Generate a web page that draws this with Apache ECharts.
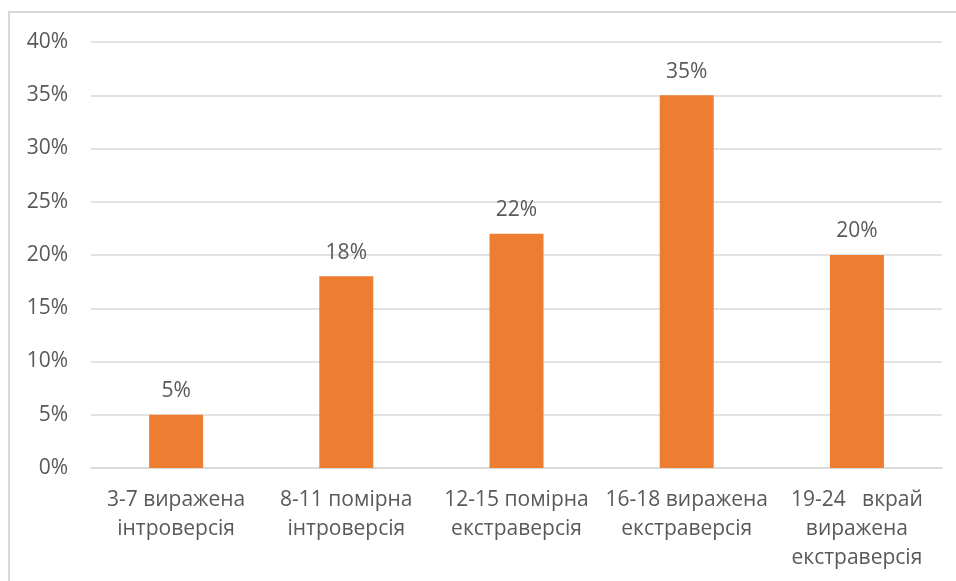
<!DOCTYPE html>
<html>
<head>
<meta charset="utf-8">
<script src="https://cdn.jsdelivr.net/npm/echarts@6/dist/echarts.min.js"></script>
<style>
  html, body { margin: 0; padding: 0; background: #fff; }
  #frame { position: absolute; left: 8px; top: 11px; width: 960px; height: 600px;
           border-left: 2px solid #d9d9d9; border-top: 2px solid #d9d9d9; }
  #chart { position: absolute; left: 0; top: 0; width: 956px; height: 581px; }
</style>
</head>
<body>
<div id="frame"></div>
<div id="chart"></div>
<script>
// Extraversion score groups and share of respondents in each
const categories = [
  '3-7 виражена\nінтроверсія',
  '8-11 помірна\nінтроверсія',
  '12-15 помірна\nекстраверсія',
  '16-18 виражена\nекстраверсія',
  '19-24   вкрай\nвиражена\nекстраверсія'
];
const shares = [5, 18, 22, 35, 20];
const yTicks = [0, 5, 10, 15, 20, 25, 30, 35, 40];

const textColor = '#595959';
const fontFamily = '"Open Sans", "Noto Sans", sans-serif';
const fontSize = 21;

const chart = echarts.init(document.getElementById('chart'));
chart.setOption({
  backgroundColor: 'transparent',
  animation: false,
  grid: { left: 91, right: 14, top: 42, bottom: 113, containLabel: false },
  xAxis: {
    type: 'category',
    data: categories,
    axisLine: { show: true, lineStyle: { color: '#d9d9d9', width: 1.5 } },
    axisTick: { show: false },
    axisLabel: {
      color: textColor, fontSize: fontSize, fontFamily: fontFamily,
      lineHeight: 29, margin: 18, interval: 0
    }
  },
  yAxis: {
    type: 'value',
    min: yTicks[0],
    max: yTicks[yTicks.length - 1],
    interval: 5,
    axisLine: { show: false },
    axisTick: { show: false },
    splitLine: { lineStyle: { color: '#d9d9d9', width: 1.5 } },
    axisLabel: {
      color: textColor, fontSize: fontSize, fontFamily: fontFamily, margin: 23,
      formatter: v => v + '%'
    }
  },
  series: [{
    type: 'bar',
    data: shares,
    barWidth: 54,
    itemStyle: { color: '#ED7D31' },
    label: {
      show: true, position: 'top', distance: 13,
      color: textColor, fontSize: fontSize, fontFamily: fontFamily,
      formatter: p => p.value + '%'
    }
  }]
});
</script>
</body>
</html>
